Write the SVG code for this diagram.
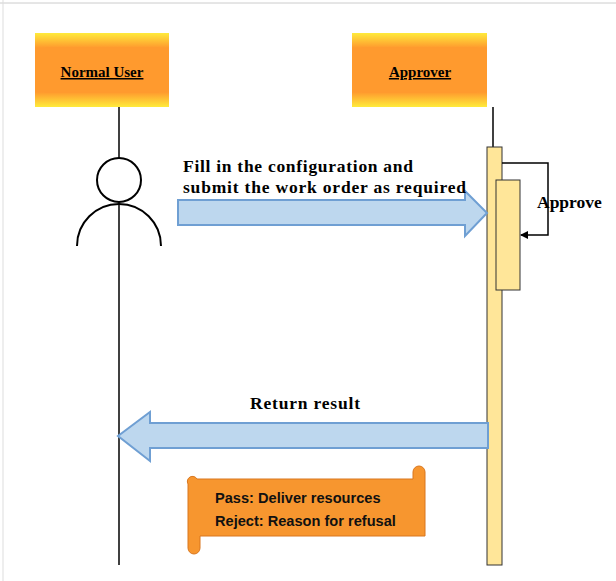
<svg xmlns="http://www.w3.org/2000/svg" width="616" height="581" viewBox="0 0 616 581">
<style>
.t{font-family:"Liberation Serif",serif;font-weight:bold;font-size:19px;fill:#000}
.h{font-family:"Liberation Serif",serif;font-weight:bold;font-size:15px;text-decoration:underline;fill:#000}
.s{font-family:"Liberation Sans",sans-serif;font-weight:bold;font-size:14.6px;fill:#111}
.ln{stroke:#000;stroke-width:1.5;fill:none}
.bar{fill:#ffe699;stroke:#333;stroke-width:1}
.big{fill:#bdd7ee;stroke:#6f9fd3;stroke-width:2}
</style>
<defs>
<marker id="ah" markerWidth="8" markerHeight="8" refX="7" refY="4" orient="auto" markerUnits="userSpaceOnUse"><path d="M0,0 L8,4 L0,8 z" fill="#000"/></marker>
<linearGradient id="bx" x1="0" y1="0" x2="0" y2="1"><stop offset="0" stop-color="#ffeb3b"/><stop offset="0.2" stop-color="#ff9a2e"/><stop offset="0.8" stop-color="#ff9a2e"/><stop offset="1" stop-color="#ffeb3b"/></linearGradient>
</defs>
<rect width="616" height="581" fill="#fff"/>
<line x1="0" y1="3" x2="616" y2="3" stroke="#ccc"/>
<line x1="3" y1="0" x2="3" y2="581" stroke="#ddd"/>
<g id="user">
<rect x="35" y="33" width="134" height="74" fill="url(#bx)"/>
<rect x="45" y="47" width="114" height="46" fill="#ff9a2e"/>
<text class="h" x="102" y="77" text-anchor="middle">Normal User</text>
<circle cx="119" cy="180" r="22" fill="#fff" stroke="#000" stroke-width="2"/>
<path d="M77,246 A42,42 0 0 1 161,246" fill="none" stroke="#000" stroke-width="2"/>
</g>
<g id="approver">
<rect x="352" y="33" width="135" height="74" fill="url(#bx)"/>
<rect x="362" y="47" width="115" height="46" fill="#ff9a2e"/>
<text class="h" x="420" y="77" text-anchor="middle">Approver</text>
</g>
<g id="connectors">
<line class="ln" x1="119" y1="107" x2="119" y2="158"/>
<line class="ln" x1="119" y1="202" x2="119" y2="565"/>
<line class="ln" x1="493" y1="107" x2="493" y2="147"/>
<rect class="bar" x="487" y="147" width="15" height="418"/>
<rect class="bar" x="496" y="180" width="24" height="110"/>
<path class="ln" d="M502,163 H548 V235 H521" marker-end="url(#ah)"/>
<path class="big" d="M178,200 H465 V191 L487,213 L465,236 V225 H178 Z"/>
<path class="big" d="M488,423 H150 V412 L118,436 L150,461 V448 H488 Z"/>
</g>
<g id="labels">
<text class="t" x="183" y="172" font-size="17.5" style="font-size:17.5px" textLength="230">Fill in the configuration and</text>
<text class="t" x="183" y="193" style="font-size:17.5px" textLength="283">submit the work order as required</text>
<text class="t" x="537" y="208" style="font-size:17.5px">Approve</text>
<text class="t" x="250" y="409" style="font-size:17.5px" textLength="110">Return result</text>
</g>
<g id="note">
<path d="M197,479 H413 V472 a6,6 0 0 1 12,0 V536 H200 V548 a6,6 0 0 1 -12,0 V484 a5,5 0 0 1 9,-5 Z" fill="#f7962f" stroke="#d9771f" stroke-width="1"/>
<text class="s" x="215" y="503">Pass: Deliver resources</text>
<text class="s" x="215" y="526">Reject: Reason for refusal</text>
</g>
</svg>
